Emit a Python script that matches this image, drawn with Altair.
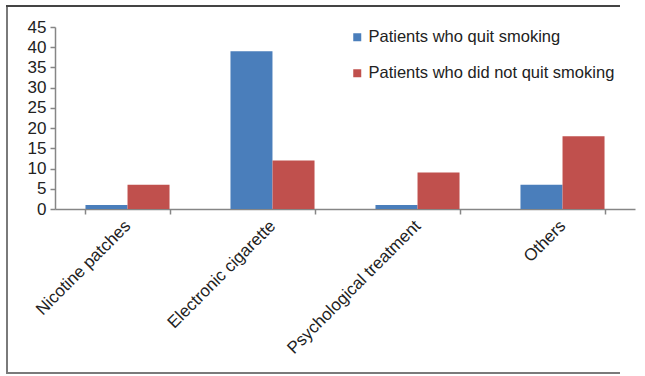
import altair as alt
import pandas as pd

# Smoking-cessation method vs. outcome
methods = ["Nicotine patches", "Electronic cigarette", "Psychological treatment", "Others"]
quit_smoking = [1, 39, 1, 6]
did_not_quit = [6, 12, 9, 18]
series = ["Patients who quit smoking", "Patients who did not quit smoking"]
colors = ["#4a7ebb", "#c0504d"]
y_ticks = list(range(0, 50, 5))

rows = []
for m, q, d in zip(methods, quit_smoking, did_not_quit):
    rows.append({"method": m, "group": series[0], "count": q})
    rows.append({"method": m, "group": series[1], "count": d})
df = pd.DataFrame(rows)

FONT = "Liberation Sans"
TEXT = "#222222"
AXIS = "#868686"

bars = alt.Chart(df).mark_bar(size=42).encode(
    x=alt.X(
        "method:N",
        sort=methods,
        title=None,
        scale=alt.Scale(paddingInner=0.42, paddingOuter=0.21),
        axis=alt.Axis(
            labelAngle=-45,
            labelAlign="right",
            labelBaseline="middle",
            labelPadding=9,
            labelLimit=0,
            tickBand="extent",
            tickSize=5,
            labelFontSize=17,
        ),
    ),
    xOffset=alt.XOffset("group:N", sort=series, scale=alt.Scale(paddingInner=0, paddingOuter=0)),
    y=alt.Y(
        "count:Q",
        title=None,
        scale=alt.Scale(domain=[0, 45], nice=False),
        axis=alt.Axis(values=y_ticks, grid=False, tickSize=5, labelPadding=4, labelFontSize=17),
    ),
    color=alt.Color(
        "group:N",
        sort=series,
        scale=alt.Scale(domain=series, range=colors),
        legend=alt.Legend(
            title=None,
            orient="none",
            legendX=294,
            legendY=2,
            symbolType="square",
            symbolSize=64,
            symbolStrokeWidth=0,
            labelFontSize=16.5,
            labelLimit=0,
            labelOffset=3,
            rowPadding=19,
            padding=0,
        ),
    ),
)

# outer box: left, top and bottom edges
frame_left = alt.Chart(pd.DataFrame({"k": [0]})).mark_rule(
    stroke="#7a7a7a", strokeWidth=2
).encode(x=alt.value(-48), y=alt.value(-21), y2=alt.value(346))
frame_top = alt.Chart(pd.DataFrame({"k": [0]})).mark_rule(
    stroke="#444444", strokeWidth=2
).encode(x=alt.value(-49), x2=alt.value(565), y=alt.value(-21))
frame_bottom = alt.Chart(pd.DataFrame({"k": [0]})).mark_rule(
    stroke="#7a7a7a", strokeWidth=2
).encode(x=alt.value(-49), x2=alt.value(565), y=alt.value(346))

chart = alt.layer(bars, frame_left, frame_top, frame_bottom).properties(
    width=580,
    height=182,
    autosize=alt.AutoSizeParams(type="none"),
    padding={"left": 55, "top": 27, "right": 10, "bottom": 167},
).configure_view(stroke=None).configure_axis(
    labelFont=FONT,
    labelColor=TEXT,
    domainColor=AXIS,
    domainWidth=1.5,
    tickColor=AXIS,
    tickWidth=1.5,
).configure_legend(
    labelFont=FONT, labelColor=TEXT
)

chart.save("out.html", embed_options={"renderer": "svg", "actions": False})
